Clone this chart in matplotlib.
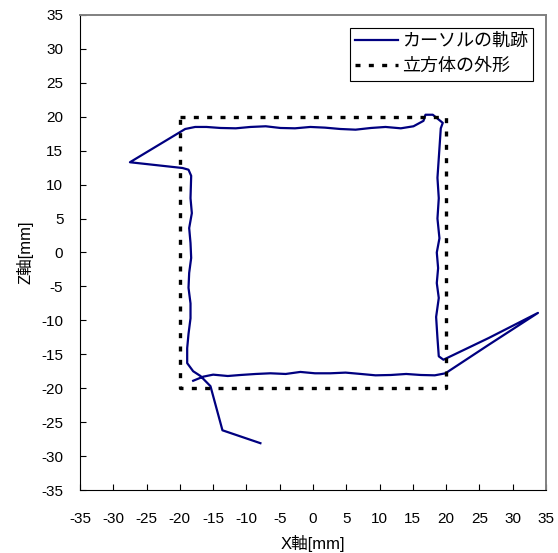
import matplotlib.pyplot as plt

plt.rcParams['font.family'] = ['Liberation Sans', 'Noto Sans CJK JP']
plt.rcParams['axes.unicode_minus'] = False

# カーソルの軌跡 (X, Z) [mm]
cursor_x = [-18.0, -16.5, -15.0, -12.8, -10.9, -8.6, -6.4, -4.1, -1.9, 0.3, 2.6, 4.9,
            7.2, 9.4, 11.7, 14.0, 16.2, 18.3, 19.9,
            26.4, 33.8, 26.4, 19.6, 18.9,
            18.7, 18.5, 18.9, 18.6, 18.8, 18.6, 19.0, 18.7, 18.9, 18.7, 18.9, 19.2,
            19.5, 18.0, 16.9, 16.6, 15.1, 13.2,
            10.9, 8.7, 6.4, 4.1, 1.8, -0.4, -2.7, -4.9, -7.1, -9.4, -11.6, -13.9,
            -16.0, -17.7, -19.2,
            -27.5,
            -19.6, -18.7, -18.3,
            -18.4, -18.2, -18.6, -18.4, -18.3, -18.6, -18.7, -18.4, -18.4, -18.7,
            -18.9, -18.9, -18.0, -16.9, -15.4,
            -13.6, -7.9]
cursor_z = [-18.9, -18.3, -18.0, -18.2, -18.05, -17.9, -17.8, -17.9, -17.6, -17.8, -17.8, -17.7,
            -17.9, -18.1, -18.05, -17.9, -18.05, -18.1, -17.8,
            -13.6, -8.9, -12.6, -15.8, -15.3,
            -12.6, -9.5, -6.7, -4.5, -2.3, 0.0, 2.1, 5.0, 8.0, 11.0, 13.9, 18.3,
            19.1, 20.3, 20.3, 19.4, 18.6, 18.3,
            18.5, 18.35, 18.1, 18.2, 18.4, 18.5, 18.3, 18.35, 18.6, 18.5, 18.3, 18.35,
            18.5, 18.5, 18.2,
            13.3,
            12.45, 12.2, 11.3,
            8.0, 5.8, 3.6, 1.4, -0.8, -3.0, -5.2, -7.5, -9.7, -12.0,
            -14.1, -16.3, -17.5, -18.2, -19.7,
            -26.2, -28.1]

# 立方体の外形
cube_x = [-20, 20, 20, -20, -20]
cube_z = [20, 20, -20, -20, 20]

ticks = list(range(-35, 40, 5))

fig = plt.figure(figsize=(5.58, 5.53), dpi=100)
ax = fig.add_axes([0.1434, 0.1139, 0.835, 0.859])

ax.plot(cursor_x, cursor_z, color='#000080', linewidth=1.6, label='カーソルの軌跡')
ax.plot(cube_x, cube_z, color='black', linewidth=2.4, linestyle=(0, (1.5, 2.5)),
        label='立方体の外形')

ax.set_xlim(-35, 35)
ax.set_ylim(-35, 35)
ax.set_xticks(ticks)
ax.set_yticks(ticks)
ax.tick_params(direction='in', length=4, labelsize=11)
ax.tick_params(axis='x', pad=16)
ax.tick_params(axis='y', pad=12)
ax.set_xlabel('X軸[mm]', fontsize=12, labelpad=6)
ax.set_ylabel('Z軸[mm]', fontsize=12, labelpad=6)

for side in ['top', 'right']:
    ax.spines[side].set_color('#808080')
    ax.spines[side].set_linewidth(1.4)

leg = ax.legend(loc='upper right', fontsize=13, frameon=True, fancybox=False,
                edgecolor='black', framealpha=1, borderaxespad=0.7,
                handlelength=2.4, handletextpad=0.2, labelspacing=0.45,
                borderpad=0.3)
leg.get_frame().set_linewidth(0.8)

fig.savefig('out.png', dpi=100)
